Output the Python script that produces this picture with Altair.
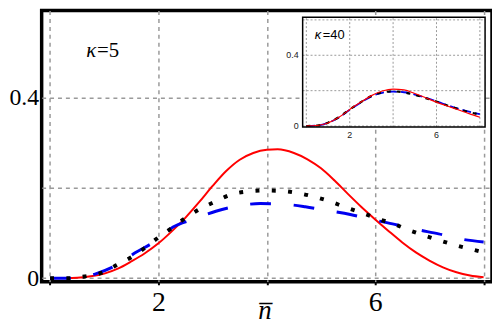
import altair as alt
import pandas as pd

# ---------------- main panel (kappa = 5) ----------------
red_x = [0, 0.5, 0.75, 1.0, 1.25, 1.5, 1.75, 2.0, 2.25, 2.5, 2.75, 3.0, 3.25, 3.5, 3.75, 4.0, 4.2, 4.5,
         4.75, 5.0, 5.25, 5.5, 5.75, 6.0, 6.25, 6.5, 6.75, 7.0, 7.25, 7.5, 7.75, 8.0]
red_y = [0, 0.001, 0.004, 0.010, 0.021, 0.037, 0.055, 0.077, 0.104, 0.134, 0.168, 0.204, 0.237, 0.262,
         0.277, 0.284, 0.285, 0.277, 0.263, 0.243, 0.216, 0.186, 0.157, 0.130, 0.104, 0.079, 0.057,
         0.039, 0.024, 0.013, 0.006, 0.002]

blue_x = [0, 0.4, 0.83, 1.26, 1.57, 1.93, 2.27, 2.64, 3.06, 3.43, 3.88, 4.27, 4.71, 5.1, 5.54, 5.93,
          6.36, 6.75, 7.17, 7.56, 8.0]
blue_y = [0, 0.0, 0.009, 0.031, 0.056, 0.081, 0.113, 0.130, 0.148, 0.159, 0.165, 0.164, 0.158, 0.150,
          0.141, 0.130, 0.119, 0.108, 0.098, 0.087, 0.080]

black_x = [0, 0.35, 0.65, 0.96, 1.23, 1.51, 1.76, 2.01, 2.27, 2.51, 2.78, 3.06, 3.34, 3.66, 3.96, 4.27,
           4.58, 4.88, 5.18, 5.45, 5.77, 6.06, 6.36, 6.65, 6.94, 7.23, 7.54, 7.84, 8.0]
black_y = [0, 0, 0.004, 0.012, 0.029, 0.047, 0.068, 0.091, 0.113, 0.134, 0.154, 0.170, 0.185, 0.192,
           0.194, 0.193, 0.188, 0.180, 0.169, 0.157, 0.144, 0.131, 0.119, 0.105, 0.093, 0.082, 0.071,
           0.062, 0.057]

main_x_grid = [0, 2, 4, 6, 8]
main_y_grid = [0, 0.2, 0.4]
main_note = ["κ", "=5"]
main_note_pos = [0.667, 0.489]

# ---------------- inset (kappa = 40) ----------------
in_x = [0, 0.5, 1.0, 1.5, 2.0, 2.5, 3.0, 3.5, 4.0, 4.5, 5.0, 5.5, 6.0, 6.5, 7.0, 7.5, 8.0]
in_red = [0, 0.003, 0.017, 0.049, 0.094, 0.134, 0.172, 0.198, 0.209, 0.204, 0.184, 0.160, 0.135,
          0.113, 0.092, 0.070, 0.050]
in_blue = [0, 0.003, 0.018, 0.048, 0.092, 0.132, 0.168, 0.188, 0.194, 0.191, 0.178, 0.160, 0.140,
           0.118, 0.098, 0.081, 0.067]
in_black = [0, 0.003, 0.019, 0.050, 0.094, 0.134, 0.170, 0.190, 0.196, 0.190, 0.176, 0.158, 0.138,
            0.116, 0.096, 0.079, 0.065]
in_x_grid = [0, 2, 4, 6, 8]
in_y_grid = [0, 0.2, 0.4, 0.6]
in_x_labels = ["2", "6"]
in_x_label_vals = [2, 6]
in_y_labels = ["0", "0.4"]
in_y_label_vals = [0, 0.4]
in_note = ["κ", "=40"]
in_note_pos = [0.39, 0.49]

# scale domains
MX = [-0.155, 8.155]
MY = [-0.0081, 0.592]
IX = [-0.17, 8.24]
IY = [-0.006, 0.615]
IX_RANGE = [263.7, 448]
IY_RANGE = [117.7, 6.7]

W, H = 455, 274

mxs = alt.Scale(domain=MX, nice=False, zero=False)
mys = alt.Scale(domain=MY, nice=False, zero=False)

x_axis = alt.Axis(
    values=main_x_grid,
    labelExpr="datum.value == 2 ? '2' : (datum.value == 6 ? '6' : '')",
    grid=True, gridDash=[4, 4], gridColor="#9a9a9a", gridWidth=1.5,
    domain=False, ticks=True, tickColor="black", tickSize=3, tickWidth=2,
    labelFont="Liberation Serif", labelFontSize=28, labelColor="black", labelPadding=4,
    title="n\u0305", titleFont="Liberation Serif", titleFontSize=27, titleFontStyle="italic",
    titleFontWeight="normal", titleColor="black", titleBaseline="alphabetic",
    titleX=225, titleY=37.5, titleAlign="center",
)
y_axis = alt.Axis(
    values=main_y_grid,
    labelExpr="datum.value == 0 ? '0' : (abs(datum.value - 0.4) < 1e-6 ? '0.4' : '')",
    grid=True, gridDash=[4, 4], gridColor="#9a9a9a", gridWidth=1.5,
    domain=False, ticks=True, tickColor="black", tickSize=2, tickWidth=2,
    labelFont="Liberation Serif", labelFontSize=24, labelColor="black", labelPadding=1,
    title=None,
)

red_df = pd.DataFrame({"x": red_x, "y": red_y})
blue_df = pd.DataFrame({"x": blue_x, "y": blue_y})
black_df = pd.DataFrame({"x": black_x, "y": black_y})


def mline(df, **kw):
    return alt.Chart(df).mark_line(interpolate="monotone", **kw).encode(
        x=alt.X("x:Q", scale=mxs, axis=x_axis),
        y=alt.Y("y:Q", scale=mys, axis=y_axis),
    )


red_line = mline(red_df, color="#ff0000", strokeWidth=2)
blue_line = mline(blue_df, color="#0000f0", strokeWidth=3, strokeDash=[21, 23], strokeCap="butt")
black_line = mline(black_df, color="black", strokeWidth=4, strokeDash=[4, 12.5], strokeCap="butt")

note_df = pd.DataFrame({"x": [main_note_pos[0]], "y": [main_note_pos[1]],
                        "k": [main_note[0]], "r": [main_note[1]]})
note_k = alt.Chart(note_df).mark_text(
    font="Liberation Serif", fontSize=21, fontStyle="italic", align="left", baseline="alphabetic",
    color="black").encode(x=alt.X("x:Q", scale=mxs, axis=x_axis), y=alt.Y("y:Q", scale=mys, axis=y_axis),
                          text="k:N")
note_r = alt.Chart(note_df).mark_text(
    font="Liberation Serif", fontSize=21, align="left", baseline="alphabetic", dx=11,
    color="black").encode(x=alt.X("x:Q", scale=mxs, axis=x_axis), y=alt.Y("y:Q", scale=mys, axis=y_axis),
                          text="r:N")

main = alt.layer(red_line, blue_line, black_line, note_k, note_r)

# ---------------- inset layers ----------------
ixs = alt.Scale(domain=IX, range=IX_RANGE, nice=False, zero=False)
iys = alt.Scale(domain=IY, range=IY_RANGE, nice=False, zero=False)

frame_df = pd.DataFrame({"x0": [IX[0]], "x1": [IX[1]], "y0": [IY[0]], "y1": [IY[1]]})
bg = alt.Chart(frame_df).mark_rect(fill="white", strokeWidth=0).encode(
    x=alt.X("x0:Q", scale=ixs, axis=None), x2="x1:Q",
    y=alt.Y("y0:Q", scale=iys, axis=None), y2="y1:Q")
frame = alt.Chart(frame_df).mark_rect(fill="white", fillOpacity=0, stroke="black", strokeWidth=1.5).encode(
    x=alt.X("x0:Q", scale=ixs, axis=None), x2="x1:Q",
    y=alt.Y("y0:Q", scale=iys, axis=None), y2="y1:Q")

vgrid = alt.Chart(pd.DataFrame({"g": in_x_grid, "y0": IY[0], "y1": IY[1]})).mark_rule(
    color="#9a9a9a", strokeWidth=1, strokeDash=[2, 2]).encode(
    x=alt.X("g:Q", scale=ixs, axis=None), y=alt.Y("y0:Q", scale=iys, axis=None), y2="y1:Q")
hgrid = alt.Chart(pd.DataFrame({"g": in_y_grid, "x0": IX[0], "x1": IX[1]})).mark_rule(
    color="#9a9a9a", strokeWidth=1, strokeDash=[2, 2]).encode(
    y=alt.Y("g:Q", scale=iys, axis=None), x=alt.X("x0:Q", scale=ixs, axis=None), x2="x1:Q")

inset_df = pd.DataFrame({"x": in_x, "red": in_red, "blue": in_blue, "black": in_black})


def iline(col, **kw):
    return alt.Chart(inset_df).mark_line(interpolate="monotone", **kw).encode(
        x=alt.X("x:Q", scale=ixs, axis=None), y=alt.Y(f"{col}:Q", scale=iys, axis=None))


i_blue = iline("blue", color="#0000f0", strokeWidth=1.8, strokeDash=[9, 4], strokeCap="butt")
i_black = iline("black", color="black", strokeWidth=2.2, strokeDash=[4, 6], strokeCap="butt")
i_red = iline("red", color="#ff0000", strokeWidth=1.2)

xl_df = pd.DataFrame({"v": in_x_label_vals, "t": in_x_labels, "y0": IY[0]})
xlab = alt.Chart(xl_df).mark_text(font="Liberation Sans", fontSize=9, baseline="top", dy=4,
                                  color="#222").encode(
    x=alt.X("v:Q", scale=ixs, axis=None), y=alt.Y("y0:Q", scale=iys, axis=None), text="t:N")
yl_df = pd.DataFrame({"v": in_y_label_vals, "t": in_y_labels, "x0": IX[0]})
ylab = alt.Chart(yl_df).mark_text(font="Liberation Sans", fontSize=9, baseline="middle", align="right",
                                  dx=-4, color="#222").encode(
    y=alt.Y("v:Q", scale=iys, axis=None), x=alt.X("x0:Q", scale=ixs, axis=None), text="t:N")

inote_df = pd.DataFrame({"x": [in_note_pos[0]], "y": [in_note_pos[1]], "k": [in_note[0]], "r": [in_note[1]]})
inote_k = alt.Chart(inote_df).mark_text(font="Liberation Sans", fontSize=13, fontStyle="italic",
                                        align="left", baseline="alphabetic", color="black").encode(
    x=alt.X("x:Q", scale=ixs, axis=None), y=alt.Y("y:Q", scale=iys, axis=None), text="k:N")
inote_r = alt.Chart(inote_df).mark_text(font="Liberation Sans", fontSize=13, align="left",
                                        baseline="alphabetic", dx=8, color="black").encode(
    x=alt.X("x:Q", scale=ixs, axis=None), y=alt.Y("y:Q", scale=iys, axis=None), text="r:N")

inset = alt.layer(bg, vgrid, hgrid, i_blue, i_black, i_red, frame, xlab, ylab, inote_k, inote_r)

chart = alt.layer(main, inset).resolve_scale(x="independent", y="independent").properties(
    width=W, height=H,
    autosize=alt.AutoSizeParams(type="none"),
    padding={"left": 34, "top": 1, "right": 0, "bottom": 41},
    background="white",
).configure_view(stroke="black", strokeWidth=3.5)

chart.save("out.html", embed_options={"renderer": "svg", "actions": False})
